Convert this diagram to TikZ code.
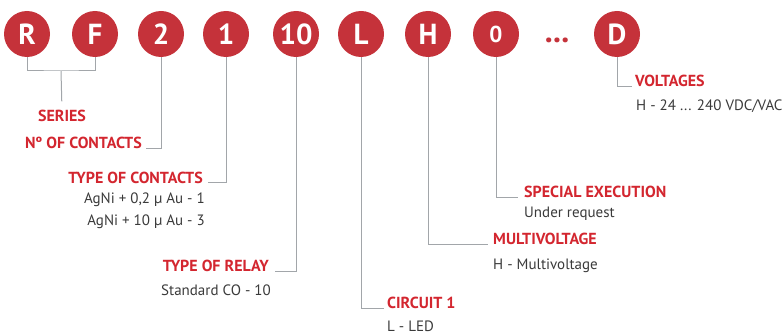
\documentclass[tikz,border=0pt]{standalone}
\usepackage{fontspec}
\setmainfont{PT Sans}
\definecolor{dotred}{HTML}{C5323A}
\definecolor{titlered}{HTML}{D3262F}
\definecolor{linegray}{HTML}{A2A6AA}
\definecolor{infogray}{HTML}{3A3A3A}
\begin{document}
\begin{tikzpicture}[x=1pt, y=-1pt,
    code/.style={circle, fill=dotred, text=white, minimum size=46pt, inner sep=0pt,
        font=\bfseries\fontsize{29}{29}\selectfont},
    title/.style={text=titlered, inner sep=0pt, font=\bfseries\fontsize{16}{18}\selectfont},
    info/.style={text=infogray, inner sep=0pt, font=\fontsize{15}{17}\selectfont},
    link/.style={draw=linegray, line width=1pt}]
\useasboundingbox (0,0) rectangle (782,334);

% code letters
\foreach \name/\x/\txt in {r/27/R, f/95/F, two/161/2, one/226/1, ten/296/10,
        led/361/L, multi/428/H, spec/496/{\fontsize{23}{23}\selectfont 0}, volt/617/D}
    \node[code] (\name) at (\x,34) {\txt};
\node[text=dotred, inner sep=0pt, font=\bfseries\fontsize{32}{32}\selectfont] (dots) at (557,40) {...};

% labels on the left
\node[title, anchor=base] (series) at (62,122) {SERIES};
\node[title, anchor=base east] (ncont) at (142,149) {Nº OF CONTACTS};
\node[title, anchor=base east] (tcont) at (203,183) {TYPE OF CONTACTS};
\node[info, anchor=base east] (tcont1) at (205,204) {AgNi + 0,2 μ Au - 1};
\node[info, anchor=base east] (tcont2) at (205,225) {AgNi + 10 μ Au - 3};
\node[title, anchor=base east] (trel) at (269,271) {TYPE OF RELAY};
\node[info, anchor=base east] (trel1) at (271,295) {Standard CO - 10};

% labels on the right
\node[title, anchor=base west] (circ) at (387,308) {CIRCUIT 1};
\node[info, anchor=base west] (circ1) at (387,331) {L - LED};
\node[title, anchor=base west] (mvolt) at (493,244) {MULTIVOLTAGE};
\node[info, anchor=base west] (mvolt1) at (493,269) {H - Multivoltage};
\node[title, anchor=base west] (sexec) at (524,197) {SPECIAL EXECUTION};
\node[info, anchor=base west] (sexec1) at (524,217) {Under request};
\node[title, anchor=base west] (volts) at (635,87) {VOLTAGES};
\node[info, anchor=base west] (volts1) at (636,111) {H - 24 ... 240 VDC/VAC};

% connectors
\coordinate (rf) at (61,71);
\draw[link] (r.south) |- (rf) -| (f.south);
\draw[link, shorten >=9pt] (rf) -- (series.north);
\draw[link] (two.south) |- ([xshift=4pt]ncont.base east);
\draw[link] (one.south) |- ([xshift=5pt]tcont.base east);
\draw[link] (ten.south) |- ([xshift=6pt]trel.base east);
\draw[link] (led.south) |- ([xshift=-3pt]circ.base west);
\draw[link] (multi.south) |- ([xshift=-5pt]mvolt.base west);
\draw[link] (spec.south) |- ([xshift=-6pt]sexec.base west);
\draw[link] (volt.south) |- ([xshift=-3pt]volts.base west);
\end{tikzpicture}
\end{document}
